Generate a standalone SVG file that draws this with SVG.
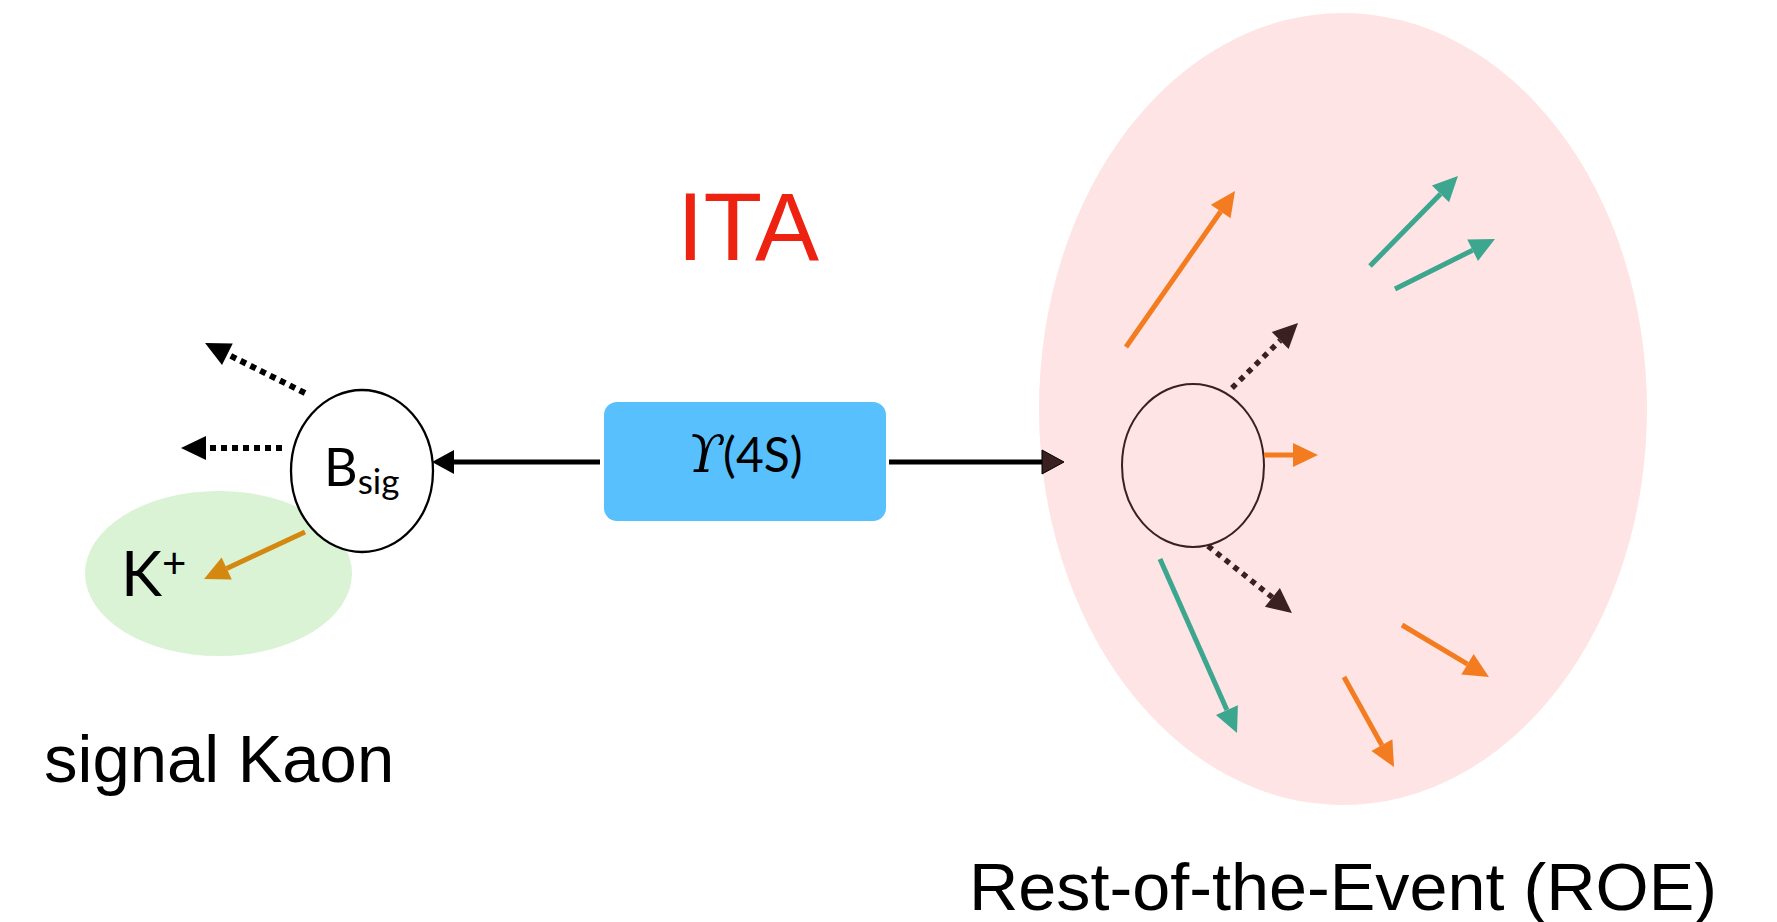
<svg xmlns="http://www.w3.org/2000/svg" width="1777" height="922" viewBox="0 0 1777 922">
  <style>
    .sans { font-family: "Liberation Sans", Arial, sans-serif; }
    .geo { font-family: Lato, "Noto Sans", sans-serif; }
    .solid { stroke: #000; stroke-width: 5; fill: none; }
    .dotk { stroke: #000; stroke-width: 6; stroke-dasharray: 6 5; fill: none; }
    .dotb { stroke: #3A2021; stroke-width: 5.5; stroke-dasharray: 5.5 5.5; fill: none; }
    .org { stroke: #F47C20; stroke-width: 5; fill: none; }
    .teal { stroke: #3CA68E; stroke-width: 5; fill: none; }
    .gold { stroke: #D4880F; stroke-width: 5; fill: none; }
  </style>
  <defs>
    <marker id="hk" markerUnits="userSpaceOnUse" orient="auto" refX="0" refY="0" markerWidth="25" markerHeight="24" overflow="visible">
      <path d="M0,-12 L22,0 L0,12 z" fill="#000"/>
    </marker>
    <marker id="hkd" markerUnits="userSpaceOnUse" orient="auto" refX="0" refY="0" markerWidth="25" markerHeight="24" overflow="visible">
      <path d="M0,-12 L25,0 L0,12 z" fill="#000"/>
    </marker>
    <marker id="hb" markerUnits="userSpaceOnUse" orient="auto" refX="0" refY="0" markerWidth="25" markerHeight="24" overflow="visible">
      <path d="M0,-12 L25,0 L0,12 z" fill="#3A2021"/>
    </marker>
    <marker id="hbs" markerUnits="userSpaceOnUse" orient="auto" refX="0" refY="0" markerWidth="25" markerHeight="24" overflow="visible">
      <path d="M0,-12 L22,0 L0,12 z" fill="#3A2021" stroke="#000" stroke-width="1"/>
    </marker>
    <marker id="ho" markerUnits="userSpaceOnUse" orient="auto" refX="0" refY="0" markerWidth="25" markerHeight="24" overflow="visible">
      <path d="M0,-12 L25,0 L0,12 z" fill="#F47C20"/>
    </marker>
    <marker id="ht" markerUnits="userSpaceOnUse" orient="auto" refX="0" refY="0" markerWidth="25" markerHeight="24" overflow="visible">
      <path d="M0,-12 L25,0 L0,12 z" fill="#3CA68E"/>
    </marker>
    <marker id="hg" markerUnits="userSpaceOnUse" orient="auto" refX="0" refY="0" markerWidth="25" markerHeight="24" overflow="visible">
      <path d="M0,-12 L25,0 L0,12 z" fill="#D4880F"/>
    </marker>
  </defs>

  <rect width="1777" height="922" fill="#fff"/>

  <g id="roe-region">
    <ellipse cx="1343" cy="409" rx="304" ry="396" fill="#FEE4E4"/>
  </g>

  <g id="signal-kaon-region">
    <ellipse cx="218.5" cy="573.5" rx="133.5" ry="82.5" fill="#D9F3D4"/>
  </g>

  <g id="title">
    <text class="sans" x="748" y="260" font-size="96" fill="#EE2211" text-anchor="middle">ITA</text>
  </g>

  <g id="upsilon">
    <rect x="604" y="402" width="282" height="119" rx="13" ry="13" fill="#58C0FD"/>
    <text x="745" y="472" font-size="48" text-anchor="middle" fill="#000"><tspan font-family="'DejaVu Serif', serif" font-style="italic" font-size="52">ϒ</tspan><tspan font-family="Lato, 'Noto Sans', sans-serif">(4S)</tspan></text>
  </g>

  <g id="bsig">
    <ellipse cx="362" cy="471" rx="71" ry="81" fill="#fff" stroke="#000" stroke-width="2.3"/>
    <text class="geo" x="324" y="486" font-size="52" fill="#000">B<tspan font-size="35" dy="8">sig</tspan></text>
  </g>

  <g id="kaon">
    <text class="geo" x="121" y="596" font-size="62" fill="#000">K<tspan font-size="42" dy="-18">+</tspan></text>
  </g>

  <g id="roe-b">
    <ellipse cx="1193" cy="465.5" rx="71" ry="81.5" fill="none" stroke="#3A2021" stroke-width="2"/>
  </g>

  <g id="connectors">
    <line class="solid" x1="600" y1="462" x2="454" y2="462" marker-end="url(#hk)"/>
    <line class="solid" x1="889" y1="462" x2="1042" y2="462" marker-end="url(#hbs)"/>
    <line class="dotk" x1="305" y1="393" x2="227.4" y2="354.2" marker-end="url(#hkd)"/>
    <line class="dotk" x1="282" y1="448" x2="206" y2="448" marker-end="url(#hkd)"/>
    <line class="gold" x1="305" y1="532" x2="226.7" y2="568.5" marker-end="url(#hg)"/>

    <line class="org" x1="1264" y1="455" x2="1293" y2="455" marker-end="url(#ho)"/>
    <line class="dotb" x1="1232" y1="388" x2="1280.2" y2="340.5" marker-end="url(#hb)"/>
    <line class="dotb" x1="1208" y1="546" x2="1272.4" y2="597.4" marker-end="url(#hb)"/>
    <line class="org" x1="1126" y1="347" x2="1220.7" y2="211.5" marker-end="url(#ho)"/>
    <line class="teal" x1="1370" y1="266" x2="1440.5" y2="193.9" marker-end="url(#ht)"/>
    <line class="teal" x1="1395" y1="289" x2="1472.6" y2="250.2" marker-end="url(#ht)"/>
    <line class="teal" x1="1160" y1="559" x2="1226.9" y2="710.1" marker-end="url(#ht)"/>
    <line class="org" x1="1402" y1="625" x2="1467.5" y2="664.2" marker-end="url(#ho)"/>
    <line class="org" x1="1344" y1="677" x2="1381.9" y2="745.2" marker-end="url(#ho)"/>
  </g>

  <g id="labels">
    <text class="sans" x="44" y="782" font-size="67" fill="#000">signal Kaon</text>
    <text class="sans" x="969" y="910" font-size="66" fill="#000" textLength="748" lengthAdjust="spacingAndGlyphs">Rest-of-the-Event (ROE)</text>
  </g>
</svg>
